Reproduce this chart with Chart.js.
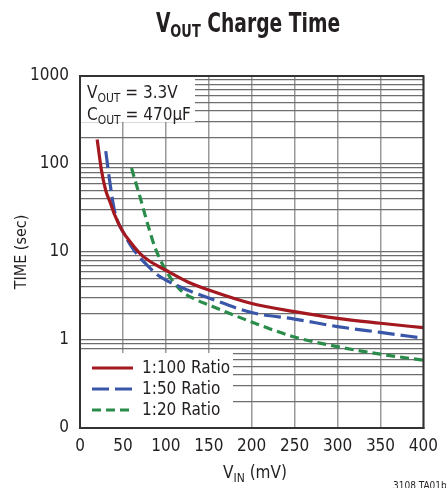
<!doctype html>
<html>
<head>
<meta charset="utf-8">
<title>VOUT Charge Time</title>
<script src="https://cdn.jsdelivr.net/npm/chart.js"></script>
<style>
  html, body { margin: 0; padding: 0; background: #fff; }
  #wrap { width: 446px; height: 488px; }
</style>
</head>
<body>
<div id="wrap"><canvas id="chart" width="446" height="488"></canvas></div>
<script>
    const FONT = "'Liberation Sans Narrow', 'DejaVu Sans Condensed', 'Arial Narrow', sans-serif";
    const INK = '#231f20';

    // values: VIN in mV, charge time in sec
    const ratio100Vin  = [20, 25, 30, 35, 40, 50, 60, 70, 80, 100, 125, 150, 200, 250, 300, 350, 400];
    const ratio100Time = [190, 85, 50, 37, 27, 17, 12.5, 9.6, 8, 6.2, 4.6, 3.7, 2.6, 2.1, 1.76, 1.55, 1.38];

    const ratio50Vin  = [30, 35, 40, 45, 50, 60, 70, 80, 90, 100, 125, 150, 200, 250, 300, 350, 400];
    const ratio50Time = [140, 60, 30, 21, 17, 11.5, 8.6, 6.8, 5.5, 4.8, 3.7, 3.0, 2.05, 1.73, 1.42, 1.22, 1.05];

    const ratio20Vin  = [60, 64, 70, 75, 80, 87, 100, 117, 136, 150, 200, 250, 300, 350, 400];
    const ratio20Time = [90, 66, 42, 28, 19, 11.5, 6.2, 3.7, 2.85, 2.5, 1.6, 1.08, 0.84, 0.69, 0.59];

    const xTicks = [0, 50, 100, 150, 200, 250, 300, 350, 400];
    const yDecades = [0.1, 1, 10, 100, 1000];
    const yDecadeLabels = ['0', '1', '10', '100', '1000'];

    const legendLabels = ['1:100 Ratio', '1:50 Ratio', '1:20 Ratio'];

    function toPoints(xs, ys) {
        return xs.map((x, i) => ({ x: x, y: ys[i] }));
    }

    // draws a run of text pieces (for subscripts) starting at x, or centred on x
    // sx squeezes the text horizontally
    function drawRuns(c, runs, x, y, center, sx) {
        sx = sx || 1;
        let total = 0;
        runs.forEach(r => { c.font = r[1]; total += c.measureText(r[0]).width; });
        c.save();
        c.translate(x, y);
        c.scale(sx, 1);
        let cx = center ? -total / 2 : 0;
        c.textAlign = 'left';
        c.textBaseline = 'alphabetic';
        runs.forEach(r => {
            c.font = r[1];
            c.fillText(r[0], cx, r[2] || 0);
            cx += c.measureText(r[0]).width;
        });
        c.restore();
    }

    const decorations = {
        id: 'decorations',
        beforeDatasetsDraw(chart) {
            const c = chart.ctx;
            const a = chart.chartArea;
            c.save();
            c.fillStyle = '#fff';
            // note box, top left
            c.fillRect(a.left + 1, a.top + 1, 114, 45);
            // legend box, bottom left
            c.fillRect(a.left + 1, a.bottom - 75, 152, 74);
            c.restore();
        },
        afterDatasetsDraw(chart) {
            const c = chart.ctx;
            const a = chart.chartArea;
            c.save();
            // frame
            c.strokeStyle = '#333';
            c.lineWidth = 2;
            c.strokeRect(a.left, a.top, a.right - a.left, a.bottom - a.top);

            c.fillStyle = INK;
            const big = '17px ' + FONT;
            const sub = '12px ' + FONT;
            drawRuns(c, [['V', big], ['OUT', sub, 4], [' = 3.3V', big]], a.left + 7, a.top + 22, false);
            drawRuns(c, [['C', big], ['OUT', sub, 4], [' = 470\u00b5F', big]], a.left + 7, a.top + 44, false);

            // legend
            chart.data.datasets.forEach((ds, i) => {
                const y = a.bottom - 60 + i * 21;
                c.strokeStyle = ds.borderColor;
                c.lineWidth = ds.borderWidth;
                c.setLineDash(ds.borderDash || []);
                c.beginPath();
                c.moveTo(a.left + 12, y);
                c.lineTo(a.left + 53, y);
                c.stroke();
                c.setLineDash([]);
                c.font = big;
                c.textBaseline = 'middle';
                c.fillText(legendLabels[i], a.left + 62, y + 1);
            });

            // title
            const tb = 'bold 26px ' + FONT;
            const ts = 'bold 18px ' + FONT;
            drawRuns(c, [['V', tb], ['OUT', ts, 5], [' Charge Time', tb]], 248, 32, true, 0.8);

            // x axis title
            drawRuns(c, [['V', big], ['IN', sub, 4], [' (mV)', big]], 255, 478, true);

            // figure code
            c.font = '10px ' + FONT;
            c.fillText('3108 TA01b', 393, 486);
            c.restore();
        }
    };

    const ctx = document.getElementById('chart');
    window.myChart = new Chart(ctx, {
        type: 'line',
        data: {
            datasets: [{
                label: legendLabels[0],
                data: toPoints(ratio100Vin, ratio100Time),
                borderColor: '#a3191f',
                borderWidth: 3.2,
                pointRadius: 0,
                cubicInterpolationMode: 'monotone'
            },
            {
                label: legendLabels[1],
                data: toPoints(ratio50Vin, ratio50Time),
                borderColor: '#3a56a8',
                borderWidth: 3.2,
                borderDash: [17, 6],
                pointRadius: 0,
                cubicInterpolationMode: 'monotone'
            },
            {
                label: legendLabels[2],
                data: toPoints(ratio20Vin, ratio20Time),
                borderColor: '#2a8c4a',
                borderWidth: 3.2,
                borderDash: [9, 5],
                pointRadius: 0,
                cubicInterpolationMode: 'monotone'
            }]
        },
        options: {
            responsive: false,
            animation: false,
            layout: { padding: { top: 76, right: 14, left: 0, bottom: 0 } },
            plugins: {
                legend: { display: false },
                tooltip: { enabled: false }
            },
            scales: {
                x: {
                    type: 'linear',
                    min: 0,
                    max: 400,
                    afterFit: s => { s.height = 60; },
                    afterBuildTicks: s => { s.ticks = xTicks.map(v => ({ value: v })); },
                    ticks: {
                        color: INK,
                        padding: 8,
                        font: { family: FONT, size: 17 },
                        maxRotation: 0
                    },
                    grid: { color: '#9a9a9a', lineWidth: 1.5, drawTicks: false },
                    border: { color: '#333', width: 2 }
                },
                y: {
                    type: 'logarithmic',
                    min: 0.1,
                    max: 1000,
                    afterFit: s => { s.width = 80; },
                    afterBuildTicks: s => {
                        const t = [];
                        yDecades.forEach(d => {
                            for (let k = 1; k <= 9; k++) {
                                const v = d * k;
                                if (v <= 1000) t.push({ value: v });
                            }
                        });
                        s.ticks = t;
                    },
                    ticks: {
                        autoSkip: false,
                        color: INK,
                        padding: 11,
                        font: { family: FONT, size: 17 },
                        callback: v => {
                            const i = yDecades.findIndex(d => Math.abs(d - v) < d * 1e-6);
                            return i >= 0 ? yDecadeLabels[i] : '';
                        }
                    },
                    grid: { color: '#6e6e6e', lineWidth: 1.2, drawTicks: false },
                    border: { color: '#333', width: 2 },
                    title: {
                        display: true,
                        text: 'TIME (sec)',
                        color: INK,
                        font: { family: FONT, size: 16 },
                        padding: { top: 12, bottom: 0 }
                    }
                }
            }
        },
        plugins: [decorations]
    });
</script>
</body>
</html>
